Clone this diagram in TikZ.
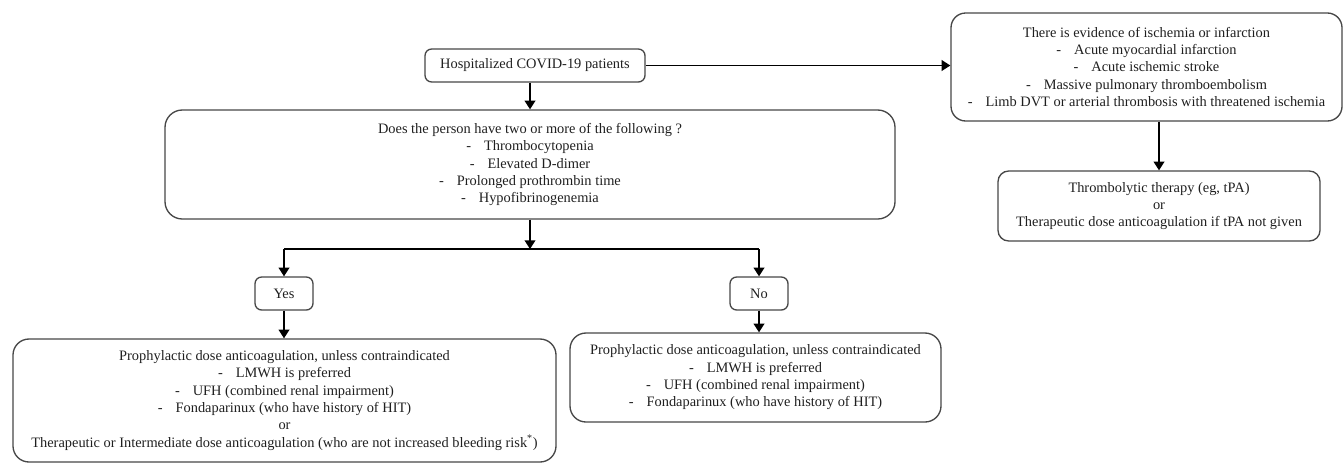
\documentclass[tikz,border=0pt]{standalone}
\usepackage{fontspec}
\setmainfont{Liberation Serif}
\usetikzlibrary{arrows.meta,calc}
\begin{document}
\begin{tikzpicture}[x=0.75pt,y=-0.75pt,
  every node/.style={font=\fontsize{10.8}{13}\selectfont, text=black!88},
  box/.style={draw=black!72, line width=1pt, align=center, inner sep=0pt},
  arr/.style={line width=1.2pt, -{Triangle[width=8pt,length=6.5pt]}},
  ln/.style={line width=1.2pt}]
\useasboundingbox (0,0) rectangle (1344,465);
\node[box, rounded corners=5pt, minimum width=165pt, minimum height=24.75pt] (hosp) at (535,65.5) {Hospitalized COVID-19 patients};
\node[box, rounded corners=13pt, minimum width=547.5pt, minimum height=81.75pt] (big) at (530,164.5)
 {Does the person have two or more of the following ?\\
  -\hspace{0.9em}Thrombocytopenia\\
  -\hspace{0.9em}Elevated D-dimer\\
  -\hspace{0.9em}Prolonged prothrombin time\\
  -\hspace{0.9em}Hypofibrinogenemia};
\node[box, rounded corners=11pt, minimum width=293.25pt, minimum height=81pt] (right) at (1146.5,67)
 {There is evidence of ischemia or infarction\\
  -\hspace{0.9em}Acute myocardial infarction\\
  -\hspace{0.9em}Acute ischemic stroke\\
  -\hspace{0.9em}Massive pulmonary thromboembolism\\
  -\hspace{0.9em}Limb DVT or arterial thrombosis with threatened ischemia};
\node[box, rounded corners=8pt, minimum width=241.5pt, minimum height=52.5pt] (thromb) at (1159,206)
 {Thrombolytic therapy (eg, tPA)\\ or\\ Therapeutic dose anticoagulation if tPA not given};
\node[box, rounded corners=5pt, minimum width=43.5pt, minimum height=24.75pt] (yes) at (284,293.5) {Yes};
\node[box, rounded corners=5pt, minimum width=43.5pt, minimum height=24.75pt] (no) at (759,293.5) {No};
\node[box, rounded corners=12pt, minimum width=407.25pt, minimum height=92.25pt] (bl) at (284.5,400.5)
 {Prophylactic dose anticoagulation, unless contraindicated\\
  -\hspace{0.9em}LMWH is preferred\\
  -\hspace{0.9em}UFH (combined renal impairment)\\
  -\hspace{0.9em}Fondaparinux (who have history of HIT)\\
  or\\
  Therapeutic or Intermediate dose anticoagulation (who are not increased bleeding risk\textsuperscript{*})};
\node[box, rounded corners=12pt, minimum width=278.25pt, minimum height=66.75pt] (bm) at (755.5,377.5)
 {Prophylactic dose anticoagulation, unless contraindicated\\
  -\hspace{0.9em}LMWH is preferred\\
  -\hspace{0.9em}UFH (combined renal impairment)\\
  -\hspace{0.9em}Fondaparinux (who have history of HIT)};
\coordinate (split) at (530,249);
\draw[arr] (hosp.south -| big.north) -- (big.north);
\draw[arr] (hosp.east) -- (hosp.east -| right.west);
\draw[arr] (right.south -| thromb.north) -- (thromb.north);
\draw[arr] (big.south) -- (split);
\draw[ln] (split -| yes.north) -- (split -| no.north);
\draw[arr] (split -| yes.north) -- (yes.north);
\draw[arr] (split -| no.north) -- (no.north);
\draw[arr] (yes.south) -- (yes.south |- bl.north);
\draw[arr] (no.south) -- (no.south |- bm.north);
\end{tikzpicture}
\end{document}
